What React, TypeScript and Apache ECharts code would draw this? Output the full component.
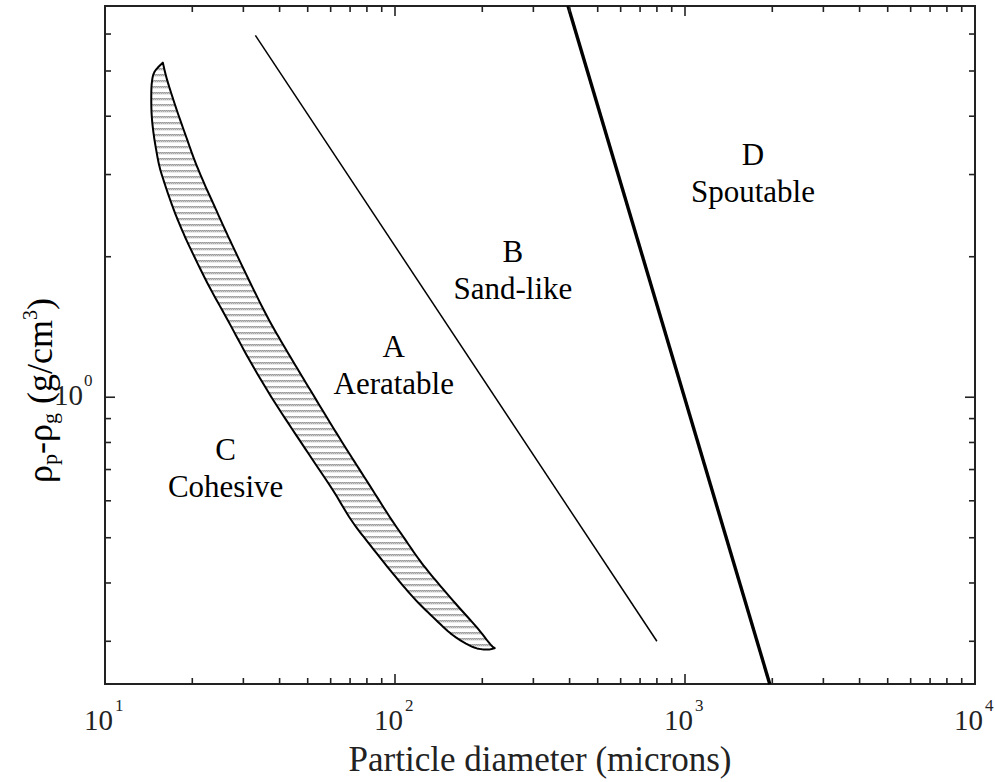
import React, { useEffect, useRef } from "react";
import * as echarts from "echarts";

// Axis extents (particle diameter in microns, density difference in g/cm^3)
const X_MIN = 10;
const X_MAX = 10000;
const Y_MIN = 0.243;
const Y_MAX = 6.89;

// Tick values and labels
const xMajorTicks = [10, 100, 1000, 10000];
const xMinorTicks = [
  20, 30, 40, 50, 60, 70, 80, 90,
  200, 300, 400, 500, 600, 700, 800, 900,
  2000, 3000, 4000, 5000, 6000, 7000, 8000, 9000,
];
const xTickExponents = ["1", "2", "3", "4"];
const yMajorTicks = [1];
const yMinorTicks = [0.3, 0.4, 0.5, 0.6, 0.7, 0.8, 0.9, 2, 3, 4, 5, 6];
const yTickExponents = ["0"];

// A/B boundary
const boundaryABd = [33, 800];
const boundaryABrho = [5.96, 0.3];

// B/D boundary
const boundaryBDd = [395, 1960];
const boundaryBDrho = [6.89, 0.243];

// C/A transition band: upper edge from the top tip down to the bottom tip
const bandUpperD = [
  15.83, 16.26, 16.92, 17.83, 19.06, 20.36, 21.96, 23.59, 25.68, 27.65, 31.77,
  36.81, 42.81, 49.38, 58.1, 68.4, 79.67, 95.9, 107.6, 121.7, 138.2, 162.0,
  190.9, 212.3, 220.8,
];
const bandUpperRho = [
  5.21, 4.86, 4.48, 4.06, 3.61, 3.22, 2.875, 2.605, 2.317, 2.1, 1.753,
  1.462, 1.243, 1.072, 0.907, 0.77, 0.664, 0.554, 0.499, 0.447, 0.405, 0.361,
  0.322, 0.2965, 0.29,
];
// lower edge from the bottom tip back up to the top tip
const bandLowerD = [
  220.8, 206.8, 185.8, 158.5, 135.2, 115.4, 98.4, 82.78, 70.73, 61.1, 52.12,
  44.46, 37.45, 31.52, 26.51, 22.56, 19.58, 18.64, 17.65, 16.79, 16.04, 15.42,
  15.02, 14.7, 14.5, 14.44, 14.5, 14.82, 15.83,
];
const bandLowerRho = [
  0.29, 0.288, 0.2916, 0.309, 0.338, 0.373, 0.419, 0.479, 0.545, 0.632, 0.733,
  0.85, 1.0015, 1.2, 1.462, 1.755, 2.1, 2.246, 2.434, 2.644, 2.875, 3.116,
  3.383, 3.68, 3.99, 4.33, 4.71, 4.98, 5.21,
];

// Geldart groups
const regionLetters = ["C", "A", "B", "D"];
const regionNames = ["Cohesive", "Aeratable", "Sand-like", "Spoutable"];
const regionD = [26.05, 99, 255, 1715];
const regionRho = [0.705, 1.171, 1.876, 3.028];

const SERIF = "'Liberation Serif', 'Times New Roman', serif";
const FRAME = "#222";

function makeHatch(): string {
  const c = document.createElement("canvas");
  c.width = 6;
  c.height = 6;
  const g = c.getContext("2d")!;
  for (let x = 0; x < 6; x++) {
    g.fillStyle = x % 2 ? "#b4b4b4" : "#9a9a9a";
    g.fillRect(x, 2, 1, 1);
    g.fillStyle = x % 2 ? "#a6a6a6" : "#d0d0d0";
    g.fillRect(x, 3, 1, 1);
    g.fillStyle = "#e8e8e8";
    g.fillRect(x, 4, 1, 1);
  }
  return c.toDataURL();
}

// Catmull-Rom resampling of an open pixel path, keeping its end points sharp
function spline(pts: number[][], steps = 8): number[][] {
  const out: number[][] = [];
  const n = pts.length;
  for (let i = 0; i < n - 1; i++) {
    const p0 = pts[Math.max(i - 1, 0)];
    const p1 = pts[i];
    const p2 = pts[i + 1];
    const p3 = pts[Math.min(i + 2, n - 1)];
    for (let s = 0; s < steps; s++) {
      const t = s / steps;
      const t2 = t * t;
      const t3 = t2 * t;
      const f = (a: number, b: number, c: number, d: number) =>
        0.5 * (2 * b + (-a + c) * t + (2 * a - 5 * b + 4 * c - d) * t2 + (-a + 3 * b - 3 * c + d) * t3);
      out.push([f(p0[0], p1[0], p2[0], p3[0]), f(p0[1], p1[1], p2[1], p3[1])]);
    }
  }
  out.push(pts[n - 1]);
  return out;
}

function textEl(text: string, size: number, x: number, y: number, align: string, fill = "#222") {
  return {
    type: "text",
    x,
    y,
    style: { text, fontFamily: SERIF, fontSize: size, fill, align, verticalAlign: "middle" },
  };
}

export default function App() {
  const ref = useRef<HTMLDivElement>(null);

  useEffect(() => {
    const chart = echarts.init(ref.current!, null, { renderer: "svg" });
    const hatch = makeHatch();

    const xTicks = [
      ...xMajorTicks.map((v) => [v, Y_MIN, 1]),
      ...xMinorTicks.map((v) => [v, Y_MIN, 0]),
    ];
    const yTicks = [
      ...yMajorTicks.map((v) => [X_MIN, v, 1]),
      ...yMinorTicks.map((v) => [X_MIN, v, 0]),
    ];

    const tickStyle = { stroke: FRAME, lineWidth: 1.6 };

    chart.setOption({
      animation: false,
      backgroundColor: "#fff",
      grid: {
        left: 105,
        right: 20,
        top: 6,
        bottom: 98,
        show: true,
        borderColor: FRAME,
        borderWidth: 2,
        backgroundColor: "transparent",
      },
      xAxis: {
        type: "log",
        logBase: 10,
        min: X_MIN,
        max: X_MAX,
        axisLine: { show: false },
        axisTick: { show: false },
        axisLabel: { show: false },
        splitLine: { show: false },
      },
      yAxis: {
        type: "log",
        logBase: 10,
        min: Y_MIN,
        max: Y_MAX,
        axisLine: { show: false },
        axisTick: { show: false },
        axisLabel: { show: false },
        splitLine: { show: false },
      },
      series: [
        {
          // hatched C/A transition band
          type: "custom",
          coordinateSystem: "cartesian2d",
          data: bandUpperD.map((d, i) => [d, bandUpperRho[i]]),
          z: 2,
          renderItem: (params: any, api: any) => {
            if (params.dataIndex !== 0) return null;
            const upper = spline(bandUpperD.map((d, i) => api.coord([d, bandUpperRho[i]])));
            const lower = spline(bandLowerD.map((d, i) => api.coord([d, bandLowerRho[i]])));
            const points = upper.concat(lower.slice(1, -1));
            return {
              type: "polygon",
              shape: { points },
              style: {
                fill: { image: hatch, repeat: "repeat", imageWidth: 6, imageHeight: 6 },
                stroke: "#000",
                lineWidth: 2,
                lineJoin: "round",
              },
            };
          },
        },
        {
          type: "line",
          data: boundaryABd.map((d, i) => [d, boundaryABrho[i]]),
          symbol: "none",
          lineStyle: { color: "#000", width: 1.5 },
          z: 3,
        },
        {
          type: "line",
          data: boundaryBDd.map((d, i) => [d, boundaryBDrho[i]]),
          symbol: "none",
          lineStyle: { color: "#000", width: 3.4 },
          z: 3,
        },
        {
          // x ticks on bottom and top edges
          type: "custom",
          coordinateSystem: "cartesian2d",
          data: xTicks,
          z: 5,
          renderItem: (params: any, api: any) => {
            const v = api.value(0);
            const len = api.value(2) === 1 ? 10 : 6;
            const b = api.coord([v, Y_MIN]);
            const t = api.coord([v, Y_MAX]);
            return {
              type: "group",
              children: [
                { type: "line", shape: { x1: b[0], y1: b[1], x2: b[0], y2: b[1] - len }, style: tickStyle },
                { type: "line", shape: { x1: t[0], y1: t[1], x2: t[0], y2: t[1] + len }, style: tickStyle },
              ],
            };
          },
        },
        {
          // y ticks on left and right edges
          type: "custom",
          coordinateSystem: "cartesian2d",
          data: yTicks,
          z: 5,
          renderItem: (params: any, api: any) => {
            const v = api.value(1);
            const len = api.value(2) === 1 ? 10 : 6;
            const l = api.coord([X_MIN, v]);
            const r = api.coord([X_MAX, v]);
            return {
              type: "group",
              children: [
                { type: "line", shape: { x1: l[0], y1: l[1], x2: l[0] + len, y2: l[1] }, style: tickStyle },
                { type: "line", shape: { x1: r[0], y1: r[1], x2: r[0] - len, y2: r[1] }, style: tickStyle },
              ],
            };
          },
        },
      ],
    } as any);

    // Texts placed through the axes' own scales
    const px = (d: number, rho: number) => chart.convertToPixel({ gridIndex: 0 }, [d, rho]) as number[];
    const graphics: any[] = [
      textEl("Particle diameter (microns)", 35, 540, 759, "center"),
      {
        type: "text",
        x: 40,
        y: 298,
        rotation: Math.PI / 2,
        style: {
          text: "{m|ρ}{sub|p}{m|-ρ}{sub|g}{m| (g/cm}{sup|3}{m|)}",
          fontFamily: SERIF,
          align: "right",
          verticalAlign: "middle",
          fill: "#000",
          rich: {
            m: { fontFamily: SERIF, fontSize: 36, lineHeight: 40, fill: "#000" },
            sub: { fontFamily: SERIF, fontSize: 22, lineHeight: 22, verticalAlign: "bottom", fill: "#000" },
            sup: { fontFamily: SERIF, fontSize: 20, lineHeight: 20, verticalAlign: "top", fill: "#000" },
          },
        },
      },
    ];
    xMajorTicks.forEach((v, i) => {
      const p = px(v, Y_MIN);
      graphics.push(textEl("10", 29, p[0] + 8, p[1] + 36, "right"));
      graphics.push(textEl(xTickExponents[i], 17, p[0] + 10, p[1] + 21, "left"));
    });
    yMajorTicks.forEach((v, i) => {
      const p = px(X_MIN, v);
      graphics.push(textEl("10", 29, p[0] - 22, p[1] - 2, "right"));
      graphics.push(textEl(yTickExponents[i], 17, p[0] - 21, p[1] - 17, "left"));
    });
    regionD.forEach((d, i) => {
      const p = px(d, regionRho[i]);
      graphics.push({
        type: "text",
        x: p[0],
        y: p[1],
        style: {
          text: regionLetters[i] + "\n" + regionNames[i],
          fontFamily: SERIF,
          fontSize: 31,
          lineHeight: 37,
          fill: "#000",
          align: "center",
          verticalAlign: "middle",
        },
      });
    });
    chart.setOption({ graphic: graphics } as any);

    return () => chart.dispose();
  }, []);

  return (
    <div
      ref={ref}
      style={{ position: "absolute", left: 0, top: 0, width: 995, height: 782 }}
    />
  );
}
